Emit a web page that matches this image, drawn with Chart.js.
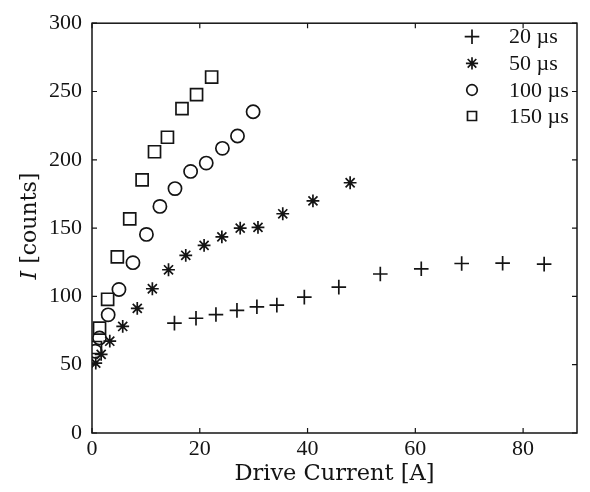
<!DOCTYPE html>
<html>
<head>
<meta charset="utf-8">
<script src="https://cdn.jsdelivr.net/npm/chart.js@4"></script>
<style>
  html, body { margin: 0; padding: 0; background: #fff; }
  #wrap { width: 590px; height: 492px; }
</style>
</head>
<body>
<div id="wrap"><canvas id="c" width="590" height="492"></canvas></div>
<script>
// Measured intensity vs. drive current for four pulse lengths
const current20  = [15.3, 19.3, 23.0, 26.9, 30.6, 34.3, 39.4, 45.8, 53.5, 61.1, 68.6, 76.2, 83.9];
const counts20   = [80.4, 84.0, 86.7, 89.8, 92.4, 93.6, 99.5, 106.8, 116.4, 120.2, 124.1, 124.3, 123.6];

const current50  = [0.7, 1.7, 3.3, 5.7, 8.4, 11.2, 14.2, 17.4, 20.8, 24.1, 27.5, 30.8, 35.4, 41.0, 47.9];
const counts50   = [51.1, 57.6, 67.2, 78.0, 91.2, 105.6, 119.5, 130.1, 137.4, 143.6, 150.0, 150.5, 160.5, 169.9, 183.2];

const current100 = [0.6, 1.4, 3.0, 5.0, 7.6, 10.1, 12.6, 15.4, 18.3, 21.2, 24.2, 27.0, 29.9];
const counts100  = [59.9, 69.6, 86.5, 105.1, 124.7, 145.4, 165.9, 178.9, 191.5, 197.6, 208.4, 217.4, 235.2];

const current150 = [0.65, 1.4, 2.9, 4.7, 7.0, 9.3, 11.6, 14.0, 16.7, 19.4, 22.2];
const counts150  = [62.6, 76.8, 97.9, 129.0, 156.7, 185.3, 205.9, 216.5, 237.4, 247.7, 260.6];

const seriesLabels = ['20 µs', '50 µs', '100 µs', '150 µs'];
const xTicks = [0, 20, 40, 60, 80];
const yTicks = [0, 50, 100, 150, 200, 250, 300];

const INK = '#141414';
const TICK_FONT = { family: '"Liberation Serif", "Times New Roman", serif', size: 22 };
const TITLE_FAMILY = '"DejaVu Serif", serif';

const toPoints = (xs, ys) => xs.map((v, i) => ({ x: v, y: ys[i] }));

const markerStyle = (style, radius) => ({
  pointStyle: style,
  pointRadius: radius,
  pointHoverRadius: radius,
  pointBorderColor: INK,
  pointBackgroundColor: 'rgba(0,0,0,0)',
  pointBorderWidth: 1.7,
  borderColor: INK,
  backgroundColor: 'rgba(0,0,0,0)',
  showLine: false
});

const datasets = [
  { label: seriesLabels[0], data: toPoints(current20, counts20),   ...markerStyle('cross', 7.3) },
  { label: seriesLabels[1], data: toPoints(current50, counts50),   ...markerStyle('star', 6.4) },
  { label: seriesLabels[2], data: toPoints(current100, counts100), ...markerStyle('circle', 6.6) },
  { label: seriesLabels[3], data: toPoints(current150, counts150), ...markerStyle('rect', 8.5) }
];

// Boxed axes with inward ticks on all four sides, legend and y-axis title
const axesBox = {
  id: 'axesBox',
  afterDraw(chart) {
    const { ctx, chartArea: a, scales: { x, y } } = chart;
    ctx.save();
    ctx.strokeStyle = INK;
    ctx.lineWidth = 1.5;
    ctx.strokeRect(a.left, a.top, a.right - a.left, a.bottom - a.top);

    const len = 5;
    ctx.lineWidth = 1.2;
    ctx.beginPath();
    xTicks.forEach(v => {
      const px = x.getPixelForValue(v);
      ctx.moveTo(px, a.bottom); ctx.lineTo(px, a.bottom - len);
      ctx.moveTo(px, a.top);    ctx.lineTo(px, a.top + len);
    });
    yTicks.forEach(v => {
      const py = y.getPixelForValue(v);
      ctx.moveTo(a.left, py);  ctx.lineTo(a.left + len, py);
      ctx.moveTo(a.right, py); ctx.lineTo(a.right - len, py);
    });
    ctx.stroke();

    // legend in the upper right corner
    const legendScale = [1, 0.95, 0.8, 0.75];
    const rowY = [36.7, 63.3, 90, 116];
    chart.data.datasets.forEach((ds, i) => {
      ctx.fillStyle = 'rgba(0,0,0,0)';
      ctx.strokeStyle = INK;
      ctx.lineWidth = ds.pointBorderWidth;
      Chart.helpers.drawPoint(ctx, {
        pointStyle: ds.pointStyle,
        radius: ds.pointRadius * legendScale[i],
        borderWidth: ds.pointBorderWidth,
        rotation: 0
      }, 472, rowY[i]);
      ctx.fillStyle = INK;
      ctx.font = '22px "Liberation Serif", "Times New Roman", serif';
      ctx.textAlign = 'left';
      ctx.textBaseline = 'middle';
      ctx.fillText(ds.label, 509, rowY[i] + 1);
    });

    // y-axis title: italic I followed by the unit
    const fItal = 'italic 22px ' + TITLE_FAMILY;
    const fReg = '22px ' + TITLE_FAMILY;
    const partA = 'I', partB = ' [counts]';
    ctx.font = fItal; const wA = ctx.measureText(partA).width;
    ctx.font = fReg;  const wB = ctx.measureText(partB).width;
    const cy = (a.top + a.bottom) / 2 - 2;
    ctx.translate(30, cy);
    ctx.rotate(-Math.PI / 2);
    ctx.fillStyle = INK;
    ctx.textBaseline = 'middle';
    ctx.textAlign = 'left';
    const start = -(wA + wB) / 2;
    ctx.font = fItal; ctx.fillText(partA, start, 0);
    ctx.font = fReg;  ctx.fillText(partB, start + wA, 0);
    ctx.restore();
  }
};

new Chart(document.getElementById('c'), {
  type: 'scatter',
  data: { datasets },
  options: {
    responsive: false,
    animation: false,
    layout: { padding: { top: 16, right: 13, left: 0, bottom: 0 } },
    plugins: { legend: { display: false }, tooltip: { enabled: false } },
    scales: {
      x: {
        type: 'linear',
        min: 0, max: 90,
        afterBuildTicks: s => { s.ticks = xTicks.map(v => ({ value: v })); },
        afterFit: s => { s.height = 59; },
        grid: { display: false, drawTicks: false },
        border: { display: false },
        ticks: { font: TICK_FONT, color: INK, padding: 3, maxRotation: 0 },
        title: {
          display: true,
          text: 'Drive Current [A]',
          color: INK,
          font: { family: TITLE_FAMILY, size: 22.5 },
          padding: { top: 0, bottom: 4 }
        }
      },
      y: {
        type: 'linear',
        min: 0, max: 300,
        afterBuildTicks: s => { s.ticks = yTicks.map(v => ({ value: v })); },
        afterFit: s => { s.width = 92; },
        grid: { display: false, drawTicks: false },
        border: { display: false },
        ticks: { font: TICK_FONT, color: INK, padding: 10 }
      }
    }
  },
  plugins: [axesBox]
});
</script>
</body>
</html>
